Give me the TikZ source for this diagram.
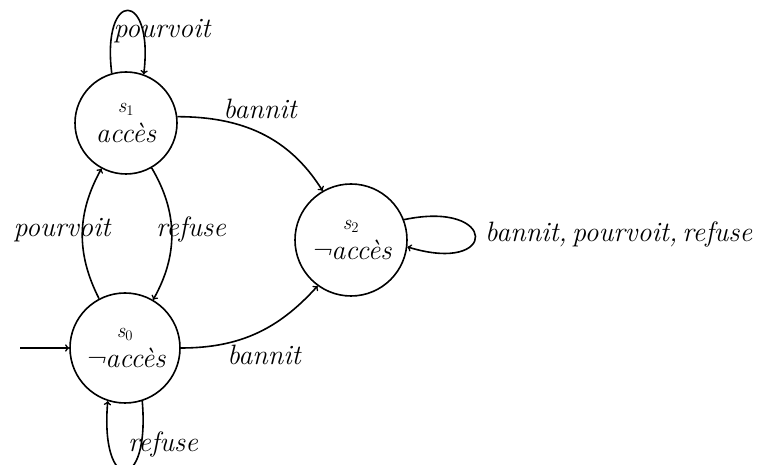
\documentclass[tikz,border=0pt]{standalone}
\newcommand\labfont{\fontsize{28}{32}\selectfont\itshape}
\newcommand\subfont{\fontsize{21}{23}\selectfont\itshape}
\newcommand\stname[1]{{\subfont s\textsubscript{\upshape #1}}}
\begin{document}
\begin{tikzpicture}[x=1pt,y=1pt,
  state/.style={circle,draw,line width=1.6pt,inner sep=0pt,align=center,font=\labfont},
  edge/.style={->,line width=1.6pt},
  lab/.style={font=\labfont,inner sep=0pt}]
\useasboundingbox (0,0) rectangle (760,465);
\node[state,minimum size=102pt] (s1) at (126,342) {\stname{1}\\[-2pt]accès};
\node[state,minimum size=110pt] (s0) at (125,117) {\stname{0}\\[-2pt]¬accès};
\node[state,minimum size=112pt] (s2) at (351,225) {\stname{2}\\[-2pt]¬accès};
\coordinate (init) at (20,117);
\draw[edge] (init) -- (s0.west);
\draw[edge] (s1.106) to[out=97,in=83,distance=85pt] (s1.70);
\draw[edge] (s0.288) to[out=275,in=265,distance=93pt] (s0.252);
\draw[edge] (s2.21) to[out=12,in=-17,distance=96pt] (s2.-7);
\draw[edge] (s1.7) to[out=0,in=122] (s2.120);
\draw[edge] (s0.east) to[out=0,in=228] (s2.234);
\draw[edge] (s0) to[bend left=28] (s1);
\draw[edge] (s1) to[bend left=30] (s0);
\node[lab,anchor=base] (l1) at (162,427) {pourvoit};
\node[lab,anchor=base] (l2) at (163,13) {refuse};
\node[lab,anchor=base west] (l3) at (485,223) {bannit,\hspace{5pt}pourvoit,\hspace{5pt}refuse};
\node[lab,anchor=base] (l4) at (260,346) {bannit};
\node[lab,anchor=base] (l5) at (264,100) {bannit};
\node[lab,anchor=base] (l6) at (62,228) {pourvoit};
\node[lab,anchor=base] (l7) at (191,228) {refuse};
\end{tikzpicture}
\end{document}
